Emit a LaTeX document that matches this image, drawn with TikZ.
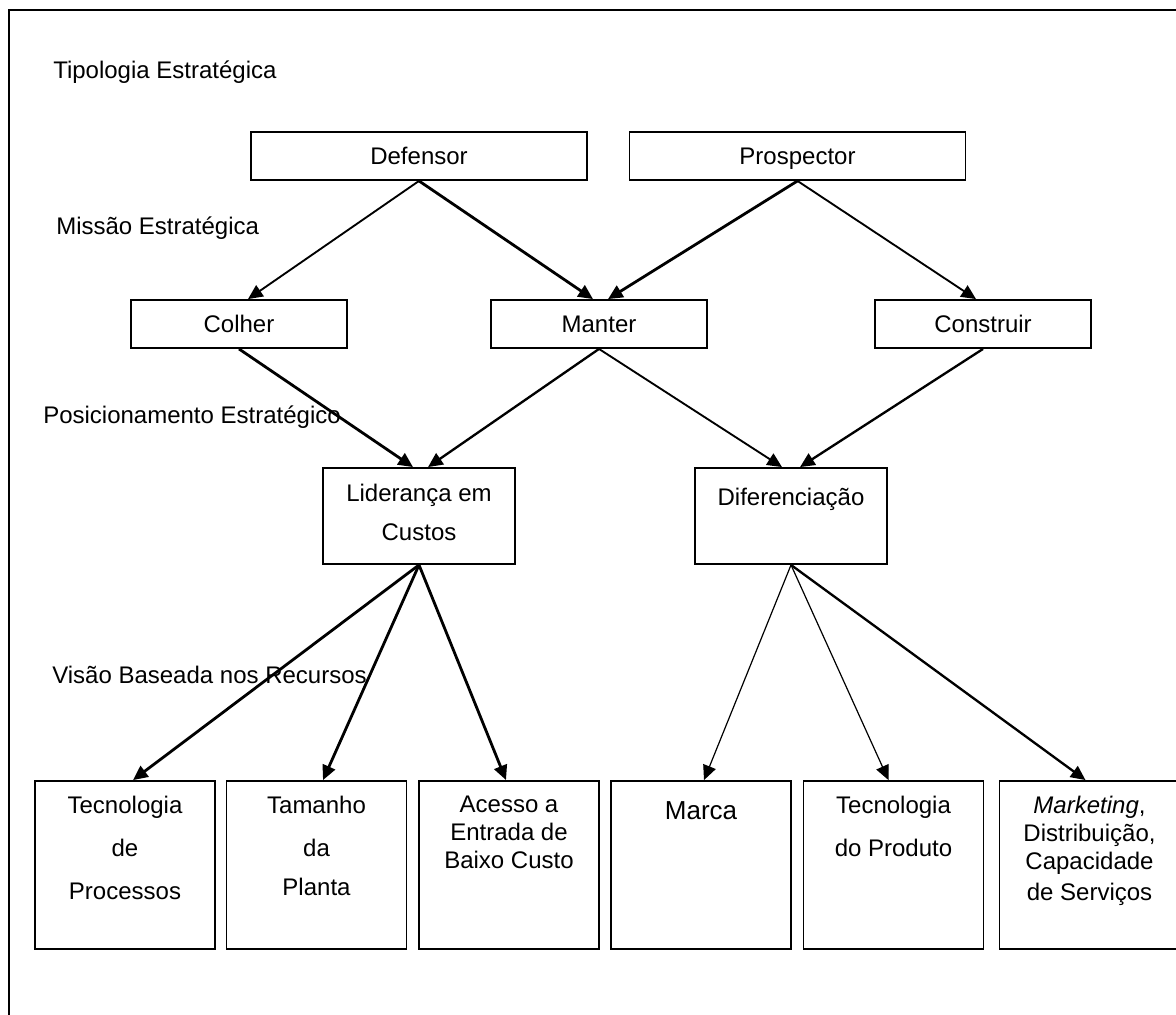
\documentclass[tikz,border=0pt]{standalone}
\usepackage{fontspec}
\setmainfont{Liberation Sans}
\usetikzlibrary{arrows.meta,calc}
\begin{document}
\begin{tikzpicture}[x=0.75pt,y=-0.75pt,
  box/.style={draw,line width=1.4pt,rectangle,inner sep=0pt,
    font=\fontsize{18}{21}\selectfont,text height=13pt,text depth=0pt},
  topbox/.style={box,minimum width=252pt,minimum height=36pt},
  midbox/.style={box,minimum width=162pt,minimum height=36pt},
  posbox/.style={box,minimum width=144pt,minimum height=72pt},
  resbox/.style={box,minimum width=135pt,minimum height=126pt},
  txt/.style={font=\fontsize{18}{21}\selectfont,inner sep=0pt,align=center,anchor=north},
  lab/.style={font=\fontsize{18}{21}\selectfont,inner sep=0pt,anchor=west},
  arr/.style={-{Triangle[length=11pt,width=10pt]}},
  conhair/.style={arr,line width=0.9pt},
  conthin/.style={arr,line width=1.4pt},
  conmed/.style={arr,line width=1.75pt},
  conthick/.style={arr,line width=2.1pt}
]
\clip (0,0) rectangle (1176,1014);
\fill[white] (0,0) rectangle (1176,1014);
% outer frame
\draw[line width=1.5pt] (9,10) rectangle (1200,1040);

% level labels
\node[lab] (lTip) at (53,72.5) {Tipologia Estratégica};
\node[lab] (lMis) at (56,228.5) {Missão Estratégica};
\node[lab] (lPos) at (43,417) {Posicionamento Estratégico};
\node[lab] (lVis) at (52,675) {Visão Baseada nos Recursos};

% strategic typology
\node[topbox] (def) at (419,156) {Defensor};
\node[topbox] (pro) at (797.5,156) {Prospector};

% strategic mission
\node[midbox] (col) at (239,324) {Colher};
\node[midbox] (man) at (599,324) {Manter};
\node[midbox] (con) at (983,324) {Construir};

% strategic positioning
\node[posbox] (lid) at (419,516) {};
\node[posbox] (dif) at (791,516) {};
\node[txt] (lidT) at ($(lid.north)+(0,17)$) {Liderança em\\[8pt]Custos};
\node[txt] (difT) at ($(dif.north)+(0,21)$) {Diferenciação};

% resources
\node[resbox] (tp)  at (125,865) {};
\node[resbox] (tdp) at (316.5,865) {};
\node[resbox] (ace) at (509,865) {};
\node[resbox] (mar) at (701,865) {};
\node[resbox] (tpr) at (893.5,865) {};
\node[resbox] (mkt) at (1089.5,865) {};
\node[txt] (tpT)  at ($(tp.north)+(0,16)$)  {Tecnologia\\[11pt]de\\[11pt]Processos};
\node[txt] (tdpT) at ($(tdp.north)+(0,16)$) {Tamanho\\[11pt]da\\[8pt]Planta};
\node[txt] (aceT) at ($(ace.north)+(0,16)$) {Acesso a\\Entrada de\\Baixo Custo};
\node[txt,font=\fontsize{19.5}{22}\selectfont] (marT) at ($(mar.north)+(0,21)$) {Marca};
\node[txt] (tprT) at ($(tpr.north)+(0,16)$) {Tecnologia\\[11pt]do Produto};
\node[txt] (mktT) at ($(mkt.north)+(0,16)$) {\textit{Marketing},\\Distribuição,\\Capacidade\\[2pt]de Serviços};

% typology -> mission
\draw[conthin]  (def.south) -- ($(col.north)+(9,0)$);
\draw[conthick] (def.south) -- ($(man.north)+(-6,0)$);
\draw[conthick] (pro.south) -- ($(man.north)+(9,0)$);
\draw[conthin]  (pro.south) -- ($(con.north)+(-7,0)$);

% mission -> positioning
\draw[conthick] (col.south) -- ($(lid.north)+(-6,0)$);
\draw[conmed]   (man.south) -- ($(lid.north)+(9,0)$);
\draw[conthin]  (man.south) -- ($(dif.north)+(-9,0)$);
\draw[conmed]   (con.south) -- ($(dif.north)+(9,0)$);

% positioning -> resources
\draw[conthick] (lid.south) -- ($(tp.north)+(8,0)$);
\draw[conthick] (lid.south) -- ($(tdp.north)+(6.5,0)$);
\draw[conthick] (lid.south) -- ($(ace.north)+(-3,0)$);
\draw[conhair]  (dif.south) -- ($(mar.north)+(3,0)$);
\draw[conhair]  (dif.south) -- ($(tpr.north)+(-5,0)$);
\draw[conmed]   (dif.south) -- ($(mkt.north)+(-4,0)$);
\end{tikzpicture}
\end{document}
